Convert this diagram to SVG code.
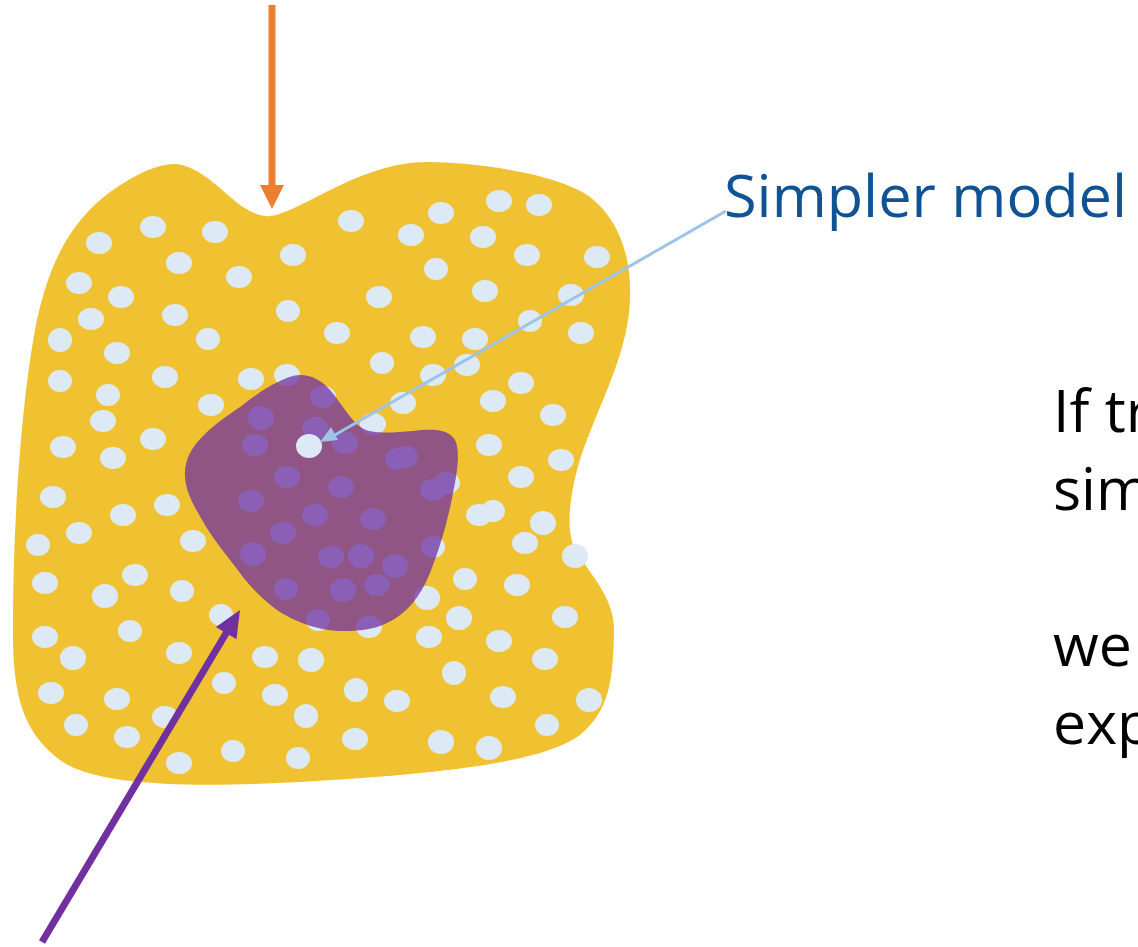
<svg xmlns="http://www.w3.org/2000/svg" width="1138" height="947" viewBox="0 0 1138 947">
<defs>
<style>
.dot{fill:#DDEAF6}
.lbl{font-family:"Open Sans","Noto Sans",sans-serif;font-size:59px}
</style>
<marker id="mBlue" viewBox="0 0 10 10" refX="10" refY="5" markerWidth="6" markerHeight="5" markerUnits="strokeWidth" orient="auto"><path d="M0,0 L10,5 L0,10 Z" fill="#9DC3E6"/></marker>
</defs>
<rect width="1138" height="947" fill="#FFFFFF"/>
<g id="population">
<path d="M173,164 C200,164 225,195 243,207 C255,214 262,217 270,216 C300,213 360,162 427,162 C480,162 560,175 590,197 C620,220 632,260 630,300 C628,360 590,420 577,470 C568,505 565,540 580,557 C595,580 614,600 614,630 C613,680 610,710 580,735 C540,765 420,775 300,782 C220,786 100,790 60,760 C20,730 12,690 13,620 C13,520 22,400 35,330 C50,250 80,215 110,192 C130,178 155,164 173,164 Z" fill="#F0C232"/>
<g id="dots">
<ellipse class="dot" cx="99" cy="243" rx="13" ry="11"/>
<ellipse class="dot" cx="153" cy="227" rx="13" ry="11"/>
<ellipse class="dot" cx="215" cy="232" rx="13" ry="11"/>
<ellipse class="dot" cx="179" cy="263" rx="13" ry="11"/>
<ellipse class="dot" cx="239" cy="277" rx="13" ry="11"/>
<ellipse class="dot" cx="293" cy="255" rx="13" ry="11"/>
<ellipse class="dot" cx="351" cy="221" rx="13" ry="11"/>
<ellipse class="dot" cx="411" cy="235" rx="13" ry="11"/>
<ellipse class="dot" cx="441" cy="213" rx="13" ry="11"/>
<ellipse class="dot" cx="483" cy="237" rx="13" ry="11"/>
<ellipse class="dot" cx="499" cy="201" rx="13" ry="11"/>
<ellipse class="dot" cx="539" cy="205" rx="13" ry="11"/>
<ellipse class="dot" cx="527" cy="255" rx="13" ry="11"/>
<ellipse class="dot" cx="436" cy="269" rx="12" ry="11"/>
<ellipse class="dot" cx="597" cy="257" rx="13" ry="11"/>
<ellipse class="dot" cx="79" cy="283" rx="13" ry="11"/>
<ellipse class="dot" cx="121" cy="297" rx="13" ry="11"/>
<ellipse class="dot" cx="91" cy="319" rx="13" ry="11"/>
<ellipse class="dot" cx="175" cy="315" rx="13" ry="11"/>
<ellipse class="dot" cx="208" cy="339" rx="12" ry="11"/>
<ellipse class="dot" cx="288" cy="311" rx="12" ry="11"/>
<ellipse class="dot" cx="60" cy="340" rx="12" ry="12"/>
<ellipse class="dot" cx="117" cy="353" rx="13" ry="11"/>
<ellipse class="dot" cx="337" cy="333" rx="13" ry="11"/>
<ellipse class="dot" cx="379" cy="297" rx="13" ry="11"/>
<ellipse class="dot" cx="485" cy="291" rx="13" ry="11"/>
<ellipse class="dot" cx="571" cy="295" rx="13" ry="11"/>
<ellipse class="dot" cx="530" cy="321" rx="12" ry="11"/>
<ellipse class="dot" cx="581" cy="333" rx="13" ry="11"/>
<ellipse class="dot" cx="423" cy="337" rx="13" ry="11"/>
<ellipse class="dot" cx="475" cy="339" rx="13" ry="11"/>
<ellipse class="dot" cx="60" cy="381" rx="12" ry="11"/>
<ellipse class="dot" cx="165" cy="377" rx="13" ry="11"/>
<ellipse class="dot" cx="108" cy="395" rx="12" ry="11"/>
<ellipse class="dot" cx="251" cy="379" rx="13" ry="11"/>
<ellipse class="dot" cx="287" cy="375" rx="13" ry="11"/>
<ellipse class="dot" cx="382" cy="363" rx="12" ry="11"/>
<ellipse class="dot" cx="433" cy="375" rx="13" ry="11"/>
<ellipse class="dot" cx="467" cy="365" rx="13" ry="11"/>
<ellipse class="dot" cx="521" cy="383" rx="13" ry="11"/>
<ellipse class="dot" cx="103" cy="421" rx="13" ry="11"/>
<ellipse class="dot" cx="211" cy="405" rx="13" ry="11"/>
<ellipse class="dot" cx="403" cy="403" rx="13" ry="11"/>
<ellipse class="dot" cx="373" cy="424" rx="13" ry="11"/>
<ellipse class="dot" cx="493" cy="401" rx="13" ry="11"/>
<ellipse class="dot" cx="553" cy="415" rx="13" ry="11"/>
<ellipse class="dot" cx="63" cy="447" rx="13" ry="11"/>
<ellipse class="dot" cx="153" cy="439" rx="13" ry="11"/>
<ellipse class="dot" cx="113" cy="458" rx="13" ry="11"/>
<ellipse class="dot" cx="489" cy="445" rx="13" ry="11"/>
<ellipse class="dot" cx="561" cy="460" rx="13" ry="11"/>
<ellipse class="dot" cx="53" cy="497" rx="13" ry="11"/>
<ellipse class="dot" cx="123" cy="515" rx="13" ry="11"/>
<ellipse class="dot" cx="167" cy="505" rx="13" ry="11"/>
<ellipse class="dot" cx="521" cy="477" rx="13" ry="11"/>
<ellipse class="dot" cx="447" cy="483" rx="13" ry="11"/>
<ellipse class="dot" cx="79" cy="533" rx="13" ry="11"/>
<ellipse class="dot" cx="38" cy="545" rx="12" ry="11"/>
<ellipse class="dot" cx="193" cy="541" rx="13" ry="11"/>
<ellipse class="dot" cx="479" cy="515" rx="13" ry="11"/>
<ellipse class="dot" cx="493" cy="511" rx="12" ry="11"/>
<ellipse class="dot" cx="543" cy="523" rx="13" ry="12"/>
<ellipse class="dot" cx="525" cy="543" rx="13" ry="11"/>
<ellipse class="dot" cx="575" cy="556" rx="13" ry="12"/>
<ellipse class="dot" cx="45" cy="583" rx="13" ry="11"/>
<ellipse class="dot" cx="135" cy="575" rx="13" ry="11"/>
<ellipse class="dot" cx="105" cy="596" rx="13" ry="12"/>
<ellipse class="dot" cx="182" cy="591" rx="12" ry="11"/>
<ellipse class="dot" cx="465" cy="579" rx="12" ry="11"/>
<ellipse class="dot" cx="517" cy="585" rx="13" ry="11"/>
<ellipse class="dot" cx="427" cy="598" rx="13" ry="12"/>
<ellipse class="dot" cx="459" cy="618" rx="13" ry="12"/>
<ellipse class="dot" cx="565" cy="617" rx="13" ry="11"/>
<ellipse class="dot" cx="221" cy="615" rx="12" ry="11"/>
<ellipse class="dot" cx="45" cy="637" rx="13" ry="11"/>
<ellipse class="dot" cx="73" cy="658" rx="13" ry="12"/>
<ellipse class="dot" cx="130" cy="631" rx="12" ry="11"/>
<ellipse class="dot" cx="179" cy="653" rx="13" ry="11"/>
<ellipse class="dot" cx="265" cy="657" rx="13" ry="11"/>
<ellipse class="dot" cx="311" cy="660" rx="13" ry="12"/>
<ellipse class="dot" cx="429" cy="637" rx="13" ry="11"/>
<ellipse class="dot" cx="499" cy="641" rx="13" ry="11"/>
<ellipse class="dot" cx="545" cy="659" rx="13" ry="11"/>
<ellipse class="dot" cx="454" cy="673" rx="12" ry="12"/>
<ellipse class="dot" cx="224" cy="683" rx="12" ry="11"/>
<ellipse class="dot" cx="275" cy="695" rx="13" ry="11"/>
<ellipse class="dot" cx="356" cy="690" rx="12" ry="12"/>
<ellipse class="dot" cx="397" cy="701" rx="13" ry="11"/>
<ellipse class="dot" cx="503" cy="697" rx="13" ry="11"/>
<ellipse class="dot" cx="589" cy="700" rx="13" ry="12"/>
<ellipse class="dot" cx="51" cy="693" rx="13" ry="11"/>
<ellipse class="dot" cx="117" cy="699" rx="13" ry="11"/>
<ellipse class="dot" cx="165" cy="717" rx="13" ry="11"/>
<ellipse class="dot" cx="76" cy="725" rx="12" ry="11"/>
<ellipse class="dot" cx="127" cy="737" rx="13" ry="11"/>
<ellipse class="dot" cx="306" cy="716" rx="12" ry="12"/>
<ellipse class="dot" cx="355" cy="739" rx="13" ry="11"/>
<ellipse class="dot" cx="441" cy="742" rx="13" ry="12"/>
<ellipse class="dot" cx="489" cy="748" rx="13" ry="12"/>
<ellipse class="dot" cx="547" cy="725" rx="12" ry="11"/>
<ellipse class="dot" cx="179" cy="763" rx="13" ry="11"/>
<ellipse class="dot" cx="233" cy="751" rx="12" ry="11"/>
<ellipse class="dot" cx="298" cy="758" rx="12" ry="11"/>
<ellipse class="dot" cx="261" cy="418" rx="13" ry="12"/>
<ellipse class="dot" cx="255" cy="445" rx="13" ry="11"/>
<ellipse class="dot" cx="323" cy="397" rx="13" ry="11"/>
<ellipse class="dot" cx="315" cy="428" rx="13" ry="11"/>
<ellipse class="dot" cx="345" cy="443" rx="13" ry="11"/>
<ellipse class="dot" cx="397" cy="459" rx="12" ry="11"/>
<ellipse class="dot" cx="406" cy="457" rx="12" ry="11"/>
<ellipse class="dot" cx="287" cy="477" rx="13" ry="11"/>
<ellipse class="dot" cx="341" cy="487" rx="13" ry="11"/>
<ellipse class="dot" cx="251" cy="501" rx="13" ry="11"/>
<ellipse class="dot" cx="433" cy="490" rx="13" ry="11"/>
<ellipse class="dot" cx="315" cy="515" rx="13" ry="11"/>
<ellipse class="dot" cx="373" cy="519" rx="13" ry="11"/>
<ellipse class="dot" cx="283" cy="533" rx="13" ry="11"/>
<ellipse class="dot" cx="253" cy="554" rx="13" ry="12"/>
<ellipse class="dot" cx="331" cy="557" rx="13" ry="11"/>
<ellipse class="dot" cx="361" cy="556" rx="13" ry="12"/>
<ellipse class="dot" cx="395" cy="566" rx="13" ry="12"/>
<ellipse class="dot" cx="433" cy="547" rx="12" ry="11"/>
<ellipse class="dot" cx="286" cy="589" rx="12" ry="11"/>
<ellipse class="dot" cx="343" cy="590" rx="13" ry="12"/>
<ellipse class="dot" cx="377" cy="585" rx="13" ry="11"/>
<ellipse class="dot" cx="318" cy="620" rx="12" ry="11"/>
<ellipse class="dot" cx="369" cy="627" rx="13" ry="11"/>
</g>
</g>
<g id="simpler-region">
<path d="M300,375 C312,375 322,381 330,390 C342,404 350,420 362,428 C372,434 390,433 413,431 C430,429 448,428 455,440 C460,450 458,470 453,493 C448,520 440,548 430,573 C420,598 405,615 387,623 C370,631 355,631 340,631 C315,630 290,620 273,607 C258,595 248,584 240,573 C225,553 214,540 205,525 C195,508 186,493 185,477 C184,462 190,448 205,434 C215,424 228,415 240,407 C253,397 265,388 278,382 C286,378 293,375 300,375 Z" fill="#7030A0" fill-opacity="0.75"/>
</g>
<g id="simpler-point">
<ellipse cx="309" cy="446" rx="13" ry="12" fill="#DDEAF6"/>
</g>
<g id="connectors">
<line x1="272" y1="5" x2="272" y2="187" stroke="#ED7D31" stroke-width="7"/>
<polygon points="260,185 284,185 272,209" fill="#ED7D31"/>
<line x1="42" y1="942" x2="228" y2="630" stroke="#7030A0" stroke-width="7"/>
<polygon points="240,610 236.5,639.3 215.9,627" fill="#7030A0"/>
<line x1="726" y1="211" x2="333" y2="436" stroke="#9DC3E6" stroke-width="3"/>
<polygon points="320,442 331,427 338,440" fill="#9DC3E6"/>
</g>
<g id="labels">
<text class="lbl" x="724" y="217" fill="#0F5394" textLength="403" lengthAdjust="spacingAndGlyphs">Simpler model</text>
<text class="lbl" x="1053" y="432" fill="#000000">If tr</text>
<text class="lbl" x="1053" y="510" fill="#000000">sim</text>
<text class="lbl" x="1053" y="666" fill="#000000">we</text>
<text class="lbl" x="1053" y="744" fill="#000000">exp</text>
</g>
</svg>
